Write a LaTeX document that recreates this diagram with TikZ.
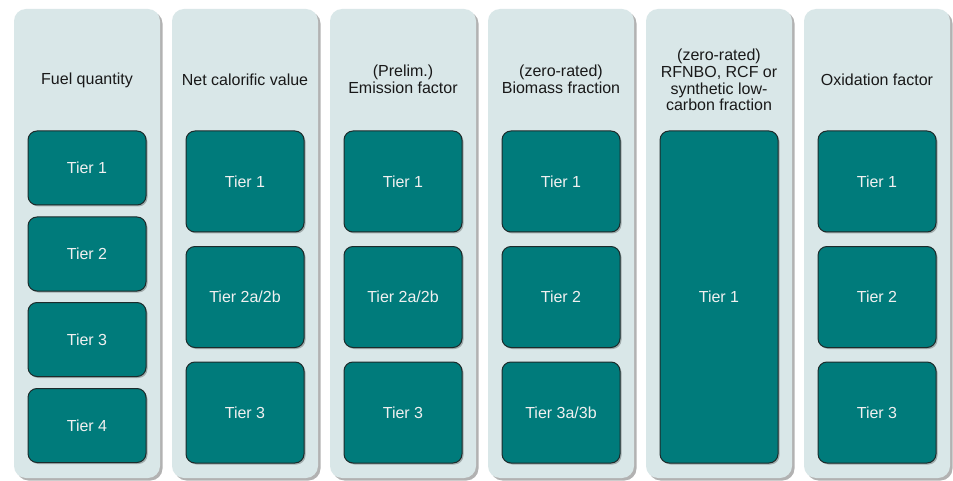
\documentclass[tikz,border=0pt]{standalone}
\usepackage{fontspec}
\setmainfont{Liberation Sans}
\usepackage{tikz}
\usetikzlibrary{shadows}

\definecolor{panelgrey}{HTML}{D9E7E8}
\definecolor{tierteal}{HTML}{007B7B}
\definecolor{tierline}{HTML}{1C2B2B}

\tikzset{
  panel/.style={fill=panelgrey, rounded corners=12pt, minimum width=146pt, minimum height=469pt,
    drop shadow={shadow xshift=2.5pt, shadow yshift=-2.5pt, fill=black, opacity=.3}},
  head/.style={align=center, text=black!90, font=\fontsize{16}{16.6}\selectfont},
  tier/.style={fill=tierteal, draw=tierline, line width=1pt, rounded corners=9pt, minimum width=118pt,
    text=white!94!black, font=\fontsize{16}{17}\selectfont,
    drop shadow={shadow xshift=1.5pt, shadow yshift=-1.5pt, fill=black, opacity=.25}},
  small/.style={tier, minimum height=74pt},
  big/.style={tier, minimum height=101pt}
}

\begin{document}
\begin{tikzpicture}[x=1pt,y=-1pt]
 \useasboundingbox[fill=white] (0,0) rectangle (953,481);
 % columns
 \draw (87,243.5) node[panel] (fuel) {};
 \draw (245,243.5) node[panel] (ncv) {};
 \draw (403,243.5) node[panel] (emis) {};
 \draw (561,243.5) node[panel] (bio) {};
 \draw (719,243.5) node[panel] (rfnbo) {};
 \draw (877,243.5) node[panel] (oxid) {};
 % headings
 \draw (87,80) node[head] (fuelhead) {Fuel quantity};
 \draw (245,80) node[head] (ncvhead) {Net calorific value};
 \draw (403,79) node[head] (emishead) {(Prelim.)\\Emission factor};
 \draw (561,79.5) node[head] (biohead) {(zero-rated)\\Biomass fraction};
 \draw (719,80) node[head] (rfnbohead) {(zero-rated)\\RFNBO, RCF or\\synthetic low-\\carbon fraction};
 \draw (877,80) node[head] (oxidhead) {Oxidation factor};
 % fuel quantity tiers
 \draw (87,168) node[small] (fuelA) {Tier 1};
 \draw (87,254) node[small] (fuelB) {Tier 2};
 \draw (87,339.5) node[small] (fuelC) {Tier 3};
 \draw (87,425.5) node[small] (fuelD) {Tier 4};
 % net calorific value tiers
 \draw (245,181.5) node[big] (ncvA) {Tier 1};
 \draw (245,297) node[big] (ncvB) {Tier 2a/2b};
 \draw (245,412.5) node[big] (ncvC) {Tier 3};
 % emission factor tiers
 \draw (403,181.5) node[big] (emisA) {Tier 1};
 \draw (403,297) node[big] (emisB) {Tier 2a/2b};
 \draw (403,412.5) node[big] (emisC) {Tier 3};
 % biomass tiers
 \draw (561,181.5) node[big] (bioA) {Tier 1};
 \draw (561,297) node[big] (bioB) {Tier 2};
 \draw (561,412.5) node[big] (bioC) {Tier 3a/3b};
 % rfnbo tier
 \draw (719,297) node[tier, minimum height=332pt] (rfnboA) {Tier 1};
 % oxidation tiers
 \draw (877,181.5) node[big] (oxidA) {Tier 1};
 \draw (877,297) node[big] (oxidB) {Tier 2};
 \draw (877,412.5) node[big] (oxidC) {Tier 3};
\end{tikzpicture}
\end{document}
